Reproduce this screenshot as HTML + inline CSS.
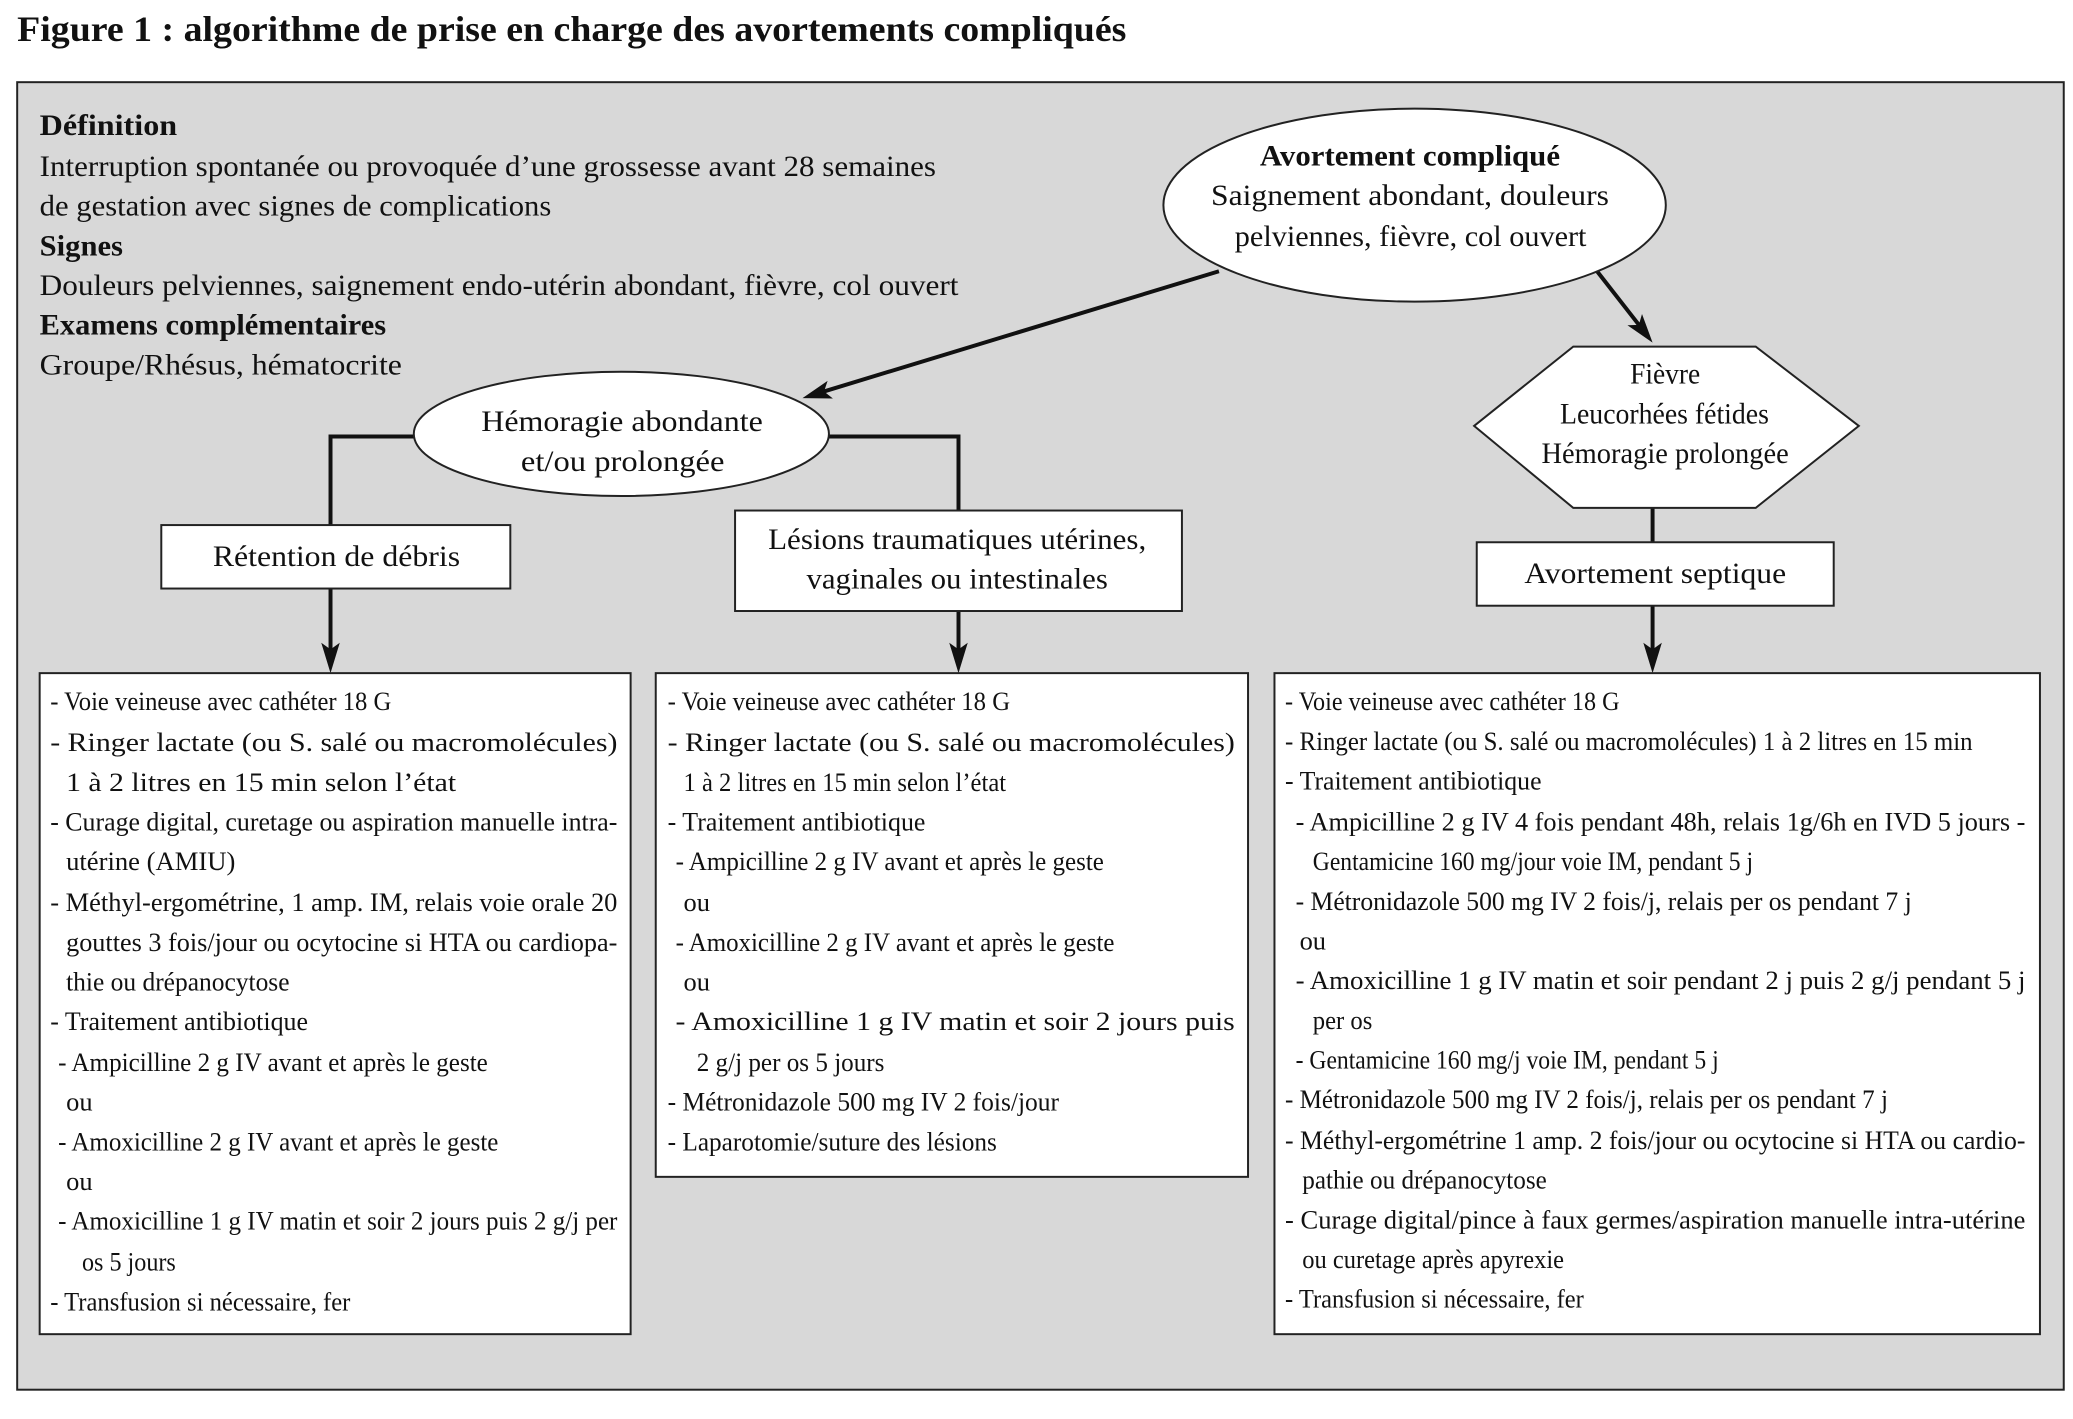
<!DOCTYPE html>
<html><head><meta charset="utf-8"><style>
html,body{margin:0;padding:0;background:#fff;}
svg{display:block;}
text{font-family:"Liberation Serif",serif;fill:#111;}
.t{font-size:20px;}
.d{font-size:22px;}
.b{font-weight:bold;}
</style></head><body>
<svg width="2073" height="1419" viewBox="0 0 1568 1073" xmlns="http://www.w3.org/2000/svg">
<rect width="1568" height="1073" fill="#fff"/>
<text x="13" y="31" class="b" style="font-size:27px" textLength="839" lengthAdjust="spacingAndGlyphs">Figure 1 : algorithme de prise en charge des avortements compliqués</text>
<rect x="13" y="62" width="1548" height="989" fill="#d8d8d8" stroke="#222" stroke-width="1.5"/>

<g class="d">
<text x="30" y="102" class="d b" textLength="104" lengthAdjust="spacingAndGlyphs">Définition</text>
<text x="30" y="133" class="d" textLength="678" lengthAdjust="spacingAndGlyphs">Interruption spontanée ou provoquée d’une grossesse avant 28 semaines</text>
<text x="30" y="163" class="d" textLength="387" lengthAdjust="spacingAndGlyphs">de gestation avec signes de complications</text>
<text x="30" y="193" class="d b" textLength="63" lengthAdjust="spacingAndGlyphs">Signes</text>
<text x="30" y="223" class="d" textLength="695" lengthAdjust="spacingAndGlyphs">Douleurs pelviennes, saignement endo-utérin abondant, fièvre, col ouvert</text>
<text x="30" y="253" class="d b" textLength="262" lengthAdjust="spacingAndGlyphs">Examens complémentaires</text>
<text x="30" y="283" class="d" textLength="274" lengthAdjust="spacingAndGlyphs">Groupe/Rhésus, hématocrite</text>
</g>

<!-- connectors -->
<g stroke="#111" stroke-width="3" fill="none">
<line x1="922" y1="205" x2="623" y2="296"/>
<line x1="1208" y1="205" x2="1240" y2="246"/>
<polyline points="314,330 250,330 250,397"/>
<polyline points="626,330 725,330 725,386"/>
<line x1="250" y1="445" x2="250" y2="492"/>
<line x1="725" y1="462" x2="725" y2="492"/>
<line x1="1250" y1="384" x2="1250" y2="410"/>
<line x1="1250" y1="458" x2="1250" y2="492"/>
</g>
<g fill="#111">
<polygon points="607,301 630,301.3 623.3,296 626,287.9"/>
<polygon points="1250,259 1242,237.3 1239.6,245.6 1231,245.9"/>
<polygon points="250,509 243,486 250,491 257,486"/>
<polygon points="725,509 718,486 725,491 732,486"/>
<polygon points="1250,509 1243,486 1250,491 1257,486"/>
</g>

<!-- nodes -->
<g fill="#fff" stroke="#222" stroke-width="1.5">
<ellipse cx="1070" cy="155" rx="190" ry="73"/>
<ellipse cx="470" cy="328" rx="157" ry="47"/>
<rect x="122" y="397" width="264" height="48"/>
<rect x="556" y="386" width="338" height="76"/>
<polygon points="1190,262 1328,262 1406,322 1328,384 1190,384 1115,322"/>
<rect x="1117" y="410" width="270" height="48"/>
<rect x="30" y="509" width="447" height="500"/>
<rect x="496" y="509" width="448" height="381"/>
<rect x="964" y="509" width="579" height="500"/>
</g>

<text x="953" y="125" class="d b" textLength="227" lengthAdjust="spacingAndGlyphs">Avortement compliqué</text>
<text x="916" y="155" class="d" textLength="301" lengthAdjust="spacingAndGlyphs">Saignement abondant, douleurs</text>
<text x="934" y="186" class="d" textLength="266" lengthAdjust="spacingAndGlyphs">pelviennes, fièvre, col ouvert</text>
<text x="364" y="326" class="d" textLength="213" lengthAdjust="spacingAndGlyphs">Hémoragie abondante</text>
<text x="394" y="356" class="d" textLength="154" lengthAdjust="spacingAndGlyphs">et/ou prolongée</text>
<text x="161" y="428" class="d" textLength="187" lengthAdjust="spacingAndGlyphs">Rétention de débris</text>
<text x="581" y="415" class="d" textLength="286" lengthAdjust="spacingAndGlyphs">Lésions traumatiques utérines,</text>
<text x="610" y="445" class="d" textLength="228" lengthAdjust="spacingAndGlyphs">vaginales ou intestinales</text>
<text x="1233" y="290" class="d" textLength="53" lengthAdjust="spacingAndGlyphs">Fièvre</text>
<text x="1180" y="320" class="d" textLength="158" lengthAdjust="spacingAndGlyphs">Leucorhées fétides</text>
<text x="1166" y="350" class="d" textLength="187" lengthAdjust="spacingAndGlyphs">Hémoragie prolongée</text>
<text x="1153" y="441" class="d" textLength="198" lengthAdjust="spacingAndGlyphs">Avortement septique</text>

<!-- left box -->
<g class="t">
<text x="38" y="537" textLength="258" lengthAdjust="spacingAndGlyphs">- Voie veineuse avec cathéter 18 G</text>
<text x="38" y="568" textLength="429" lengthAdjust="spacingAndGlyphs">- Ringer lactate (ou S. salé ou macromolécules)</text>
<text x="50" y="598" textLength="295" lengthAdjust="spacingAndGlyphs">1 à 2 litres en 15 min selon l’état</text>
<text x="38" y="628" textLength="429" lengthAdjust="spacingAndGlyphs">- Curage digital, curetage ou aspiration manuelle intra-</text>
<text x="50" y="658" textLength="128" lengthAdjust="spacingAndGlyphs">utérine (AMIU)</text>
<text x="38" y="689" textLength="429" lengthAdjust="spacingAndGlyphs">- Méthyl-ergométrine, 1 amp. IM, relais voie orale 20</text>
<text x="50" y="719" textLength="417" lengthAdjust="spacingAndGlyphs">gouttes 3 fois/jour ou ocytocine si HTA ou cardiopa-</text>
<text x="50" y="749" textLength="169" lengthAdjust="spacingAndGlyphs">thie ou drépanocytose</text>
<text x="38" y="779" textLength="195" lengthAdjust="spacingAndGlyphs">- Traitement antibiotique</text>
<text x="44" y="810" textLength="325" lengthAdjust="spacingAndGlyphs">- Ampicilline 2 g IV avant et après le geste</text>
<text x="50" y="840" textLength="20" lengthAdjust="spacingAndGlyphs">ou</text>
<text x="44" y="870" textLength="333" lengthAdjust="spacingAndGlyphs">- Amoxicilline 2 g IV avant et après le geste</text>
<text x="50" y="900" textLength="20" lengthAdjust="spacingAndGlyphs">ou</text>
<text x="44" y="930" textLength="423" lengthAdjust="spacingAndGlyphs">- Amoxicilline 1 g IV matin et soir 2 jours puis 2 g/j per</text>
<text x="62" y="961" textLength="71" lengthAdjust="spacingAndGlyphs">os 5 jours</text>
<text x="38" y="991" textLength="227" lengthAdjust="spacingAndGlyphs">- Transfusion si nécessaire, fer</text>
</g>

<!-- middle box -->
<g class="t">
<text x="505" y="537" textLength="259" lengthAdjust="spacingAndGlyphs">- Voie veineuse avec cathéter 18 G</text>
<text x="505" y="568" textLength="429" lengthAdjust="spacingAndGlyphs">- Ringer lactate (ou S. salé ou macromolécules)</text>
<text x="517" y="598" textLength="244" lengthAdjust="spacingAndGlyphs">1 à 2 litres en 15 min selon l’état</text>
<text x="505" y="628" textLength="195" lengthAdjust="spacingAndGlyphs">- Traitement antibiotique</text>
<text x="511" y="658" textLength="324" lengthAdjust="spacingAndGlyphs">- Ampicilline 2 g IV avant et après le geste</text>
<text x="517" y="689" textLength="20" lengthAdjust="spacingAndGlyphs">ou</text>
<text x="511" y="719" textLength="332" lengthAdjust="spacingAndGlyphs">- Amoxicilline 2 g IV avant et après le geste</text>
<text x="517" y="749" textLength="20" lengthAdjust="spacingAndGlyphs">ou</text>
<text x="511" y="779" textLength="423" lengthAdjust="spacingAndGlyphs">- Amoxicilline 1 g IV matin et soir 2 jours puis</text>
<text x="527" y="810" textLength="142" lengthAdjust="spacingAndGlyphs">2 g/j per os 5 jours</text>
<text x="505" y="840" textLength="296" lengthAdjust="spacingAndGlyphs">- Métronidazole 500 mg IV 2 fois/jour</text>
<text x="505" y="870" textLength="249" lengthAdjust="spacingAndGlyphs">- Laparotomie/suture des lésions</text>
</g>

<!-- right box -->
<g class="t">
<text x="972" y="537" textLength="253" lengthAdjust="spacingAndGlyphs">- Voie veineuse avec cathéter 18 G</text>
<text x="972" y="567" textLength="520" lengthAdjust="spacingAndGlyphs">- Ringer lactate (ou S. salé ou macromolécules) 1 à 2 litres en 15 min</text>
<text x="972" y="597" textLength="194" lengthAdjust="spacingAndGlyphs">- Traitement antibiotique</text>
<text x="980" y="628" textLength="552" lengthAdjust="spacingAndGlyphs">- Ampicilline 2 g IV 4 fois pendant 48h, relais 1g/6h en IVD 5 jours -</text>
<text x="993" y="658" textLength="333" lengthAdjust="spacingAndGlyphs">Gentamicine 160 mg/jour voie IM, pendant 5 j</text>
<text x="980" y="688" textLength="466" lengthAdjust="spacingAndGlyphs">- Métronidazole 500 mg IV 2 fois/j, relais per os pendant 7 j</text>
<text x="983" y="718" textLength="20" lengthAdjust="spacingAndGlyphs">ou</text>
<text x="980" y="748" textLength="552" lengthAdjust="spacingAndGlyphs">- Amoxicilline 1 g IV matin et soir pendant 2 j puis 2 g/j pendant 5 j</text>
<text x="993" y="778" textLength="45" lengthAdjust="spacingAndGlyphs">per os</text>
<text x="980" y="808" textLength="320" lengthAdjust="spacingAndGlyphs">- Gentamicine 160 mg/j voie IM, pendant 5 j</text>
<text x="972" y="838" textLength="456" lengthAdjust="spacingAndGlyphs">- Métronidazole 500 mg IV 2 fois/j, relais per os pendant 7 j</text>
<text x="972" y="869" textLength="560" lengthAdjust="spacingAndGlyphs">- Méthyl-ergométrine 1 amp. 2 fois/jour ou ocytocine si HTA ou cardio-</text>
<text x="985" y="899" textLength="185" lengthAdjust="spacingAndGlyphs">pathie ou drépanocytose</text>
<text x="972" y="929" textLength="560" lengthAdjust="spacingAndGlyphs">- Curage digital/pince à faux germes/aspiration manuelle intra-utérine</text>
<text x="985" y="959" textLength="198" lengthAdjust="spacingAndGlyphs">ou curetage après apyrexie</text>
<text x="972" y="989" textLength="226" lengthAdjust="spacingAndGlyphs">- Transfusion si nécessaire, fer</text>
</g>
</svg>
</body></html>
